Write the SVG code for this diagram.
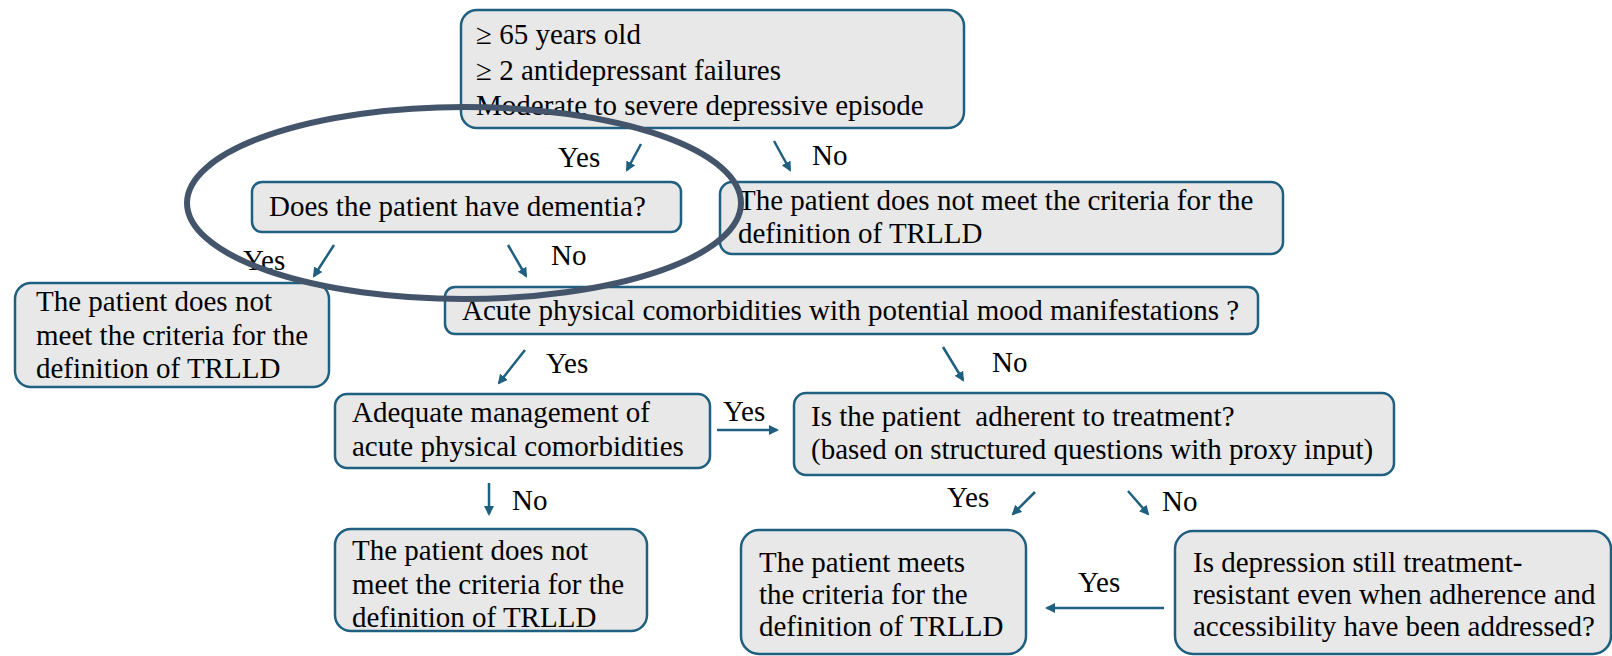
<svg xmlns="http://www.w3.org/2000/svg" width="1612" height="656" viewBox="0 0 1612 656">
<defs>
<marker id="ah" viewBox="0 0 10 10" refX="8" refY="5" markerWidth="4" markerHeight="4" orient="auto" markerUnits="strokeWidth">
<path d="M0,0 L10,5 L0,10 z" fill="#1f5f80"/>
</marker>
<style>
.box{fill:#e8e8e8;stroke:#1f5f80;stroke-width:2.5}
.t{font-family:"Liberation Serif","Times New Roman",serif;font-size:29px;fill:#000;white-space:pre}
.c{stroke:#1f5f80;stroke-width:2.5;fill:none;marker-end:url(#ah)}
</style>
</defs>
<rect width="1612" height="656" fill="#fff"/>
<g id="n-criteria">
<rect class="box" x="461" y="10" width="503" height="118" rx="16"/>
<text class="t" x="476" y="44">≥ 65 years old</text>
<text class="t" x="476" y="80">≥ 2 antidepressant failures</text>
<text class="t" x="476" y="115">Moderate to severe depressive episode</text>
</g>
<g id="n-dementia">
<rect class="box" x="252" y="182" width="429" height="50" rx="10"/>
<text class="t" x="269" y="216">Does the patient have dementia?</text>
</g>
<g id="n-notmeet1">
<rect class="box" x="720" y="182" width="563" height="72" rx="12"/>
<text class="t" x="738" y="210">The patient does not meet the criteria for the</text>
<text class="t" x="738" y="243">definition of TRLLD</text>
</g>
<g id="n-notmeet2">
<rect class="box" x="15" y="283" width="314" height="104" rx="16"/>
<text class="t" x="36" y="311">The patient does not</text>
<text class="t" x="36" y="345">meet the criteria for the</text>
<text class="t" x="36" y="378">definition of TRLLD</text>
</g>
<g id="n-acute">
<rect class="box" x="445" y="287" width="813" height="47" rx="10"/>
<text class="t" x="462" y="320">Acute physical comorbidities with potential mood manifestations ?</text>
</g>
<g id="n-manage">
<rect class="box" x="335" y="394" width="375" height="74" rx="12"/>
<text class="t" x="352" y="422">Adequate management of</text>
<text class="t" x="352" y="456">acute physical comorbidities</text>
</g>
<g id="n-adherent">
<rect class="box" x="794" y="393" width="600" height="82" rx="12"/>
<text class="t" x="811" y="426" xml:space="preserve">Is the patient  adherent to treatment?</text>
<text class="t" x="811" y="459">(based on structured questions with proxy input)</text>
</g>
<g id="n-notmeet3">
<rect class="box" x="335" y="529" width="312" height="102" rx="16"/>
<text class="t" x="352" y="560">The patient does not</text>
<text class="t" x="352" y="594">meet the criteria for the</text>
<text class="t" x="352" y="627">definition of TRLLD</text>
</g>
<g id="n-meets">
<rect class="box" x="741" y="530" width="285" height="124" rx="18"/>
<text class="t" x="759" y="572">The patient meets</text>
<text class="t" x="759" y="604">the criteria for the</text>
<text class="t" x="759" y="636">definition of TRLLD</text>
</g>
<g id="n-resistant">
<rect class="box" x="1175" y="531" width="436" height="123" rx="18"/>
<text class="t" x="1193" y="572">Is depression still treatment-</text>
<text class="t" x="1193" y="604">resistant even when adherence and</text>
<text class="t" x="1193" y="636">accessibility have been addressed?</text>
</g>
<g id="connectors">
<line class="c" x1="641" y1="144" x2="627" y2="170"/>
<line class="c" x1="774" y1="141" x2="790" y2="170"/>
<line class="c" x1="334" y1="245" x2="314" y2="276"/>
<line class="c" x1="508" y1="245" x2="526" y2="276"/>
<line class="c" x1="525" y1="350" x2="499" y2="383"/>
<line class="c" x1="943" y1="347" x2="963" y2="380"/>
<line class="c" x1="717" y1="430" x2="777" y2="430"/>
<line class="c" x1="489" y1="483" x2="489" y2="514"/>
<line class="c" x1="1035" y1="492" x2="1013" y2="514"/>
<line class="c" x1="1128" y1="491" x2="1148" y2="514"/>
<line class="c" x1="1164" y1="608" x2="1047" y2="608"/>
<text class="t" x="558" y="167">Yes</text>
<text class="t" x="812" y="165">No</text>
<text class="t" x="243" y="270">Yes</text>
<text class="t" x="551" y="265">No</text>
<text class="t" x="546" y="373">Yes</text>
<text class="t" x="992" y="372">No</text>
<text class="t" x="723" y="421">Yes</text>
<text class="t" x="512" y="510">No</text>
<text class="t" x="947" y="507">Yes</text>
<text class="t" x="1162" y="511">No</text>
<text class="t" x="1078" y="592">Yes</text>
</g>
<ellipse id="highlight" cx="464" cy="203" rx="277" ry="96" fill="none" stroke="#44546a" stroke-width="6"/>
</svg>
